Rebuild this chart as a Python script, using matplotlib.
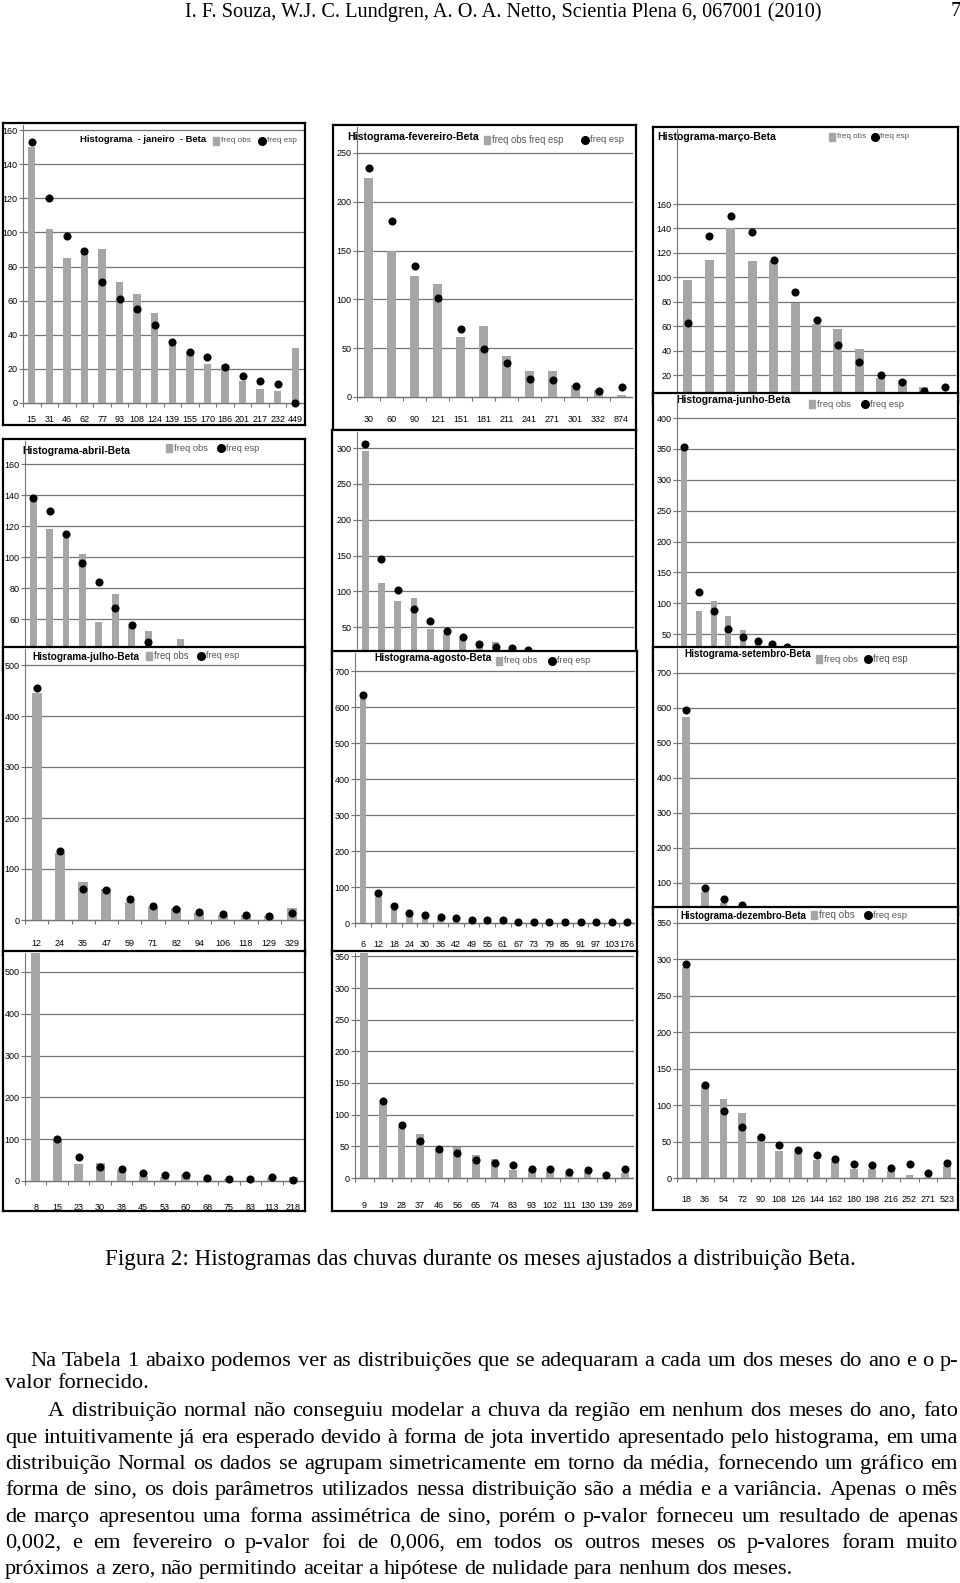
"""
Página 7 de Souza, Lundgren & Netto (2010): doze histogramas mensais de chuva
(freq obs em barras, freq esp da Beta em pontos), sobrepostos como na figura
original, seguidos da legenda e do texto.
"""
import matplotlib

matplotlib.use("Agg")

import matplotlib.pyplot as plt
import numpy as np
from matplotlib.patches import Rectangle

W, H = 960, 1583
nan = np.nan

# --- dados (nan = escondido por outro painel) -------------------------------
JAN_BINS = [15, 31, 46, 62, 77, 93, 108, 124, 139, 155, 170, 186, 201, 217, 232, 449]
JAN_OBS = [150, 102, 85, 89, 90, 71, 64, 53, 35, 30, 23, 22, 13, 8, 7, 32]
JAN_ESP = [153, 120, 98, 89, 71, 61, 55, 46, 36, 30, 27, 21, 16, 13, 11, 0]

FEV_BINS = [30, 60, 90, 121, 151, 181, 211, 241, 271, 301, 332, 874]
FEV_OBS = [224, 150, 124, 116, 61, 73, 42, 27, 27, 12, 7, 2]
FEV_ESP = [235, 180, 134, 101, 70, 49, 35, 18, 17, 11, 6, 10]

MAR_OBS = [98, 114, 140, 113, 113, 79, 62, 58, 41, 18, 16, 10, 2]
MAR_ESP = [63, 134, 150, 137, 114, 88, 65, 45, 31, 20, 14, 7, 10]

ABR_OBS = [139, 118, 112, 102, 58, 76, 55, 52, nan, 47] + [nan] * 7
ABR_ESP = [138, 130, 115, 96, 84, 67, 56, 45] + [nan] * 9

MAI_OBS = [296, 112, 87, 91, 48, 41, 34, 26, 30] + [nan] * 8
MAI_ESP = [306, 145, 102, 76, 58, 44, 36, 27, 22, 21, 18] + [nan] * 6

JUN_OBS = [351, 87, 103, 80, 56, 35, 30, 33] + [nan] * 11
JUN_ESP = [353, 118, 88, 59, 45, 39, 34, 29] + [nan] * 11

JUL_BINS = [12, 24, 35, 47, 59, 71, 82, 94, 106, 118, 129, 329]
JUL_OBS = [446, 131, 74, 60, 35, 26, 23, 13, 10, 10, 7, 24]
JUL_ESP = [454, 135, 60, 58, 41, 28, 22, 16, 12, 9, 7, 14]

AGO_BINS = [6, 12, 18, 24, 30, 36, 42, 49, 55, 61, 67, 73, 79, 85, 91, 97, 103, 176]
AGO_OBS = [628, 72, 35, 21, 17, 12, 8, 6, 5, 4, 2, 1, 1, 1, 1, 1, 1, 1]
AGO_ESP = [632, 83, 47, 29, 21, 17, 14, 9, 7, 7, 3, 2, 2, 2, 2, 2, 2, 2]

SET_OBS = [575, 73, 42] + [nan] * 12
SET_ESP = [594, 86, 55, 38] + [nan] * 11

OUT_BINS = [8, 15, 23, 30, 38, 45, 53, 60, 68, 75, 83, 113, 218]
OUT_OBS = [600, 100, 41, 44, 26, 13, 10, 17, 6, 4, 2, 6, 9]   # 1a barra sai do topo
OUT_ESP = [nan, 100, 58, 34, 28, 18, 14, 14, 8, 4, 4, 10, 2]

NOV_BINS = [9, 19, 28, 37, 46, 56, 65, 74, 83, 93, 102, 111, 130, 139, 269]
NOV_OBS = [380, 118, 81, 69, 47, 49, 37, 30, 13, 14, 10, 6, 9, 1, 8]
NOV_ESP = [nan, 122, 84, 59, 46, 39, 29, 23, 21, 15, 14, 9, 13, 5, 14]

DEZ_BINS = [18, 36, 54, 72, 90, 108, 126, 144, 162, 180, 198, 216, 252, 271, 523]
DEZ_OBS = [290, 128, 109, 89, 57, 37, 34, 25, 23, 12, 12, 9, 4, 1, 17]
DEZ_ESP = [294, 128, 92, 70, 56, 45, 38, 31, 26, 19, 18, 14, 19, 7, 20]

HEADER = "I. F. Souza, W.J. C. Lundgren, A. O. A. Netto, Scientia Plena 6, 067001 (2010)"
CAPTION = "Figura 2: Histogramas das chuvas durante os meses ajustados a distribuição Beta."
PARA1 = ["Na Tabela 1 abaixo podemos ver as distribuições que se adequaram a cada um dos meses do ano e o p-",
         "valor fornecido."]
PARA2 = ["A distribuição normal não conseguiu modelar a chuva da região em nenhum dos meses do ano, fato",
         "que intuitivamente já era esperado devido à forma de jota invertido apresentado pelo histograma, em uma",
         "distribuição Normal os dados se agrupam simetricamente em torno da média, fornecendo um gráfico em",
         "forma de sino, os dois parâmetros utilizados nessa distribuição são a média e a variância. Apenas o mês",
         "de março apresentou uma forma assimétrica de sino, porém o p-valor forneceu um resultado de apenas",
         "0,002, e em fevereiro o p-valor foi de 0,006, em todos os outros meses os p-valores foram muito",
         "próximos a zero, não permitindo aceitar a hipótese de nulidade para nenhum dos meses."]

SANS = ["Liberation Sans", "DejaVu Sans"]
SERIF = ["Liberation Serif", "DejaVu Serif"]
BAR = "#a6a6a6"
GRID = "#747474"
TICK_FS = 6.5

plt.rcParams["font.family"] = SANS

fig = plt.figure(figsize=(W / 100, H / 100), dpi=100)
fig.patch.set_facecolor("white")
renderer = fig.canvas.get_renderer()


def rect(x0, y0, x1, y1):
    """page pixels (top-left origin) -> figure fraction rect"""
    return [x0 / W, 1 - y1 / H, (x1 - x0) / W, (y1 - y0) / H]


def fit_text(ax, x, y, s, target, maxsize, **kw):
    """text whose rendered width is about `target` pixels"""
    t = ax.text(x, y, s, fontsize=10, **kw)
    w = t.get_window_extent(renderer).width
    t.set_fontsize(min(maxsize, 10 * target / w))
    return t


def panel(frame, plot, obs, esp, ticks, bins=None, label_y=None,
          title=None, legend=None):
    fx0, fy0, fx1, fy1 = frame
    # the frame axes works in page pixels, y downwards
    box = fig.add_axes(rect(fx0, fy0, fx1, fy1))
    box.set_xlim(fx0, fx1); box.set_ylim(fy1, fy0)
    box.set_xticks([]); box.set_yticks([])
    box.set_facecolor("white")
    for s in box.spines.values():
        s.set_linewidth(1.6); s.set_color("black")

    px0, px1, zero, (ref_v, ref_px) = plot
    k = (zero - ref_px) / ref_v                      # pixels per unit
    top, bottom = fy0 + 2, zero + 7
    ax = fig.add_axes(rect(px0, top, px1, bottom))
    ax.patch.set_alpha(0)
    n = len(obs)
    x = np.arange(n)
    ax.set_xlim(-0.5, n - 0.5)
    ymax = (zero - top) / k
    ax.set_ylim((zero - bottom) / k, ymax)
    ax.set_yticks(ticks)
    ax.yaxis.grid(True, color=GRID, lw=0.9)
    ax.set_axisbelow(True)
    for side in ("top", "right", "bottom"):
        ax.spines[side].set_visible(False)
    ax.spines["left"].set_color(GRID)
    ax.spines["left"].set_bounds(0, ymax)
    ax.tick_params(axis="y", length=3, color=GRID, labelsize=TICK_FS, pad=1)
    ax.set_xticks([])
    ax.axhline(0, color=GRID, lw=0.9)
    ax.vlines(np.arange(n + 1) - 0.5, 0, -4 / k, color=GRID, lw=0.8)

    ax.bar(x, obs, width=0.42, color=BAR, zorder=2)
    ax.scatter(x, esp, s=34, color="black", zorder=3, linewidths=0)

    if bins is not None:
        step = (px1 - px0) / n
        for i, b in enumerate(bins):
            box.text(px0 + (i + 0.5) * step, label_y, str(b), ha="center",
                     va="center", fontsize=TICK_FS, clip_on=False)

    if title:
        tx, ty, tw, s = title
        room = (legend[0] - 8 - tx) if legend else tw * 1.12
        fit_text(box, tx, ty, s, min(tw * 1.12, room), 9, fontweight="bold",
                 ha="left", va="center")
    if legend:
        sq_x, obs_lbl, obs_w, dot_x, esp_lbl, esp_w, ly = legend
        box.add_patch(Rectangle((sq_x - 3, ly - 4), 6, 8, color=BAR))
        fit_text(box, sq_x + 5, ly, obs_lbl, obs_w, 8, color="#555555",
                 ha="left", va="center")
        box.plot([dot_x], [ly], "o", color="black", ms=5.5)
        fit_text(box, dot_x + 5, ly, esp_lbl, esp_w, 8, color="#555555",
                 ha="left", va="center")
    return ax


# row 1
panel((3, 123, 305, 425), (23, 304, 403, (160, 130)), JAN_OBS, JAN_ESP,
      range(0, 161, 20), JAN_BINS, 420,
      (80, 140, 112, "Histograma  - janeiro  - Beta"),
      (216, "freq obs", 30, 262, "freq esp", 30, 141))
panel((333, 125, 636, 430), (357, 633, 397, (250, 153)), FEV_OBS, FEV_ESP,
      range(0, 251, 50), FEV_BINS, 420,
      (347, 137, 119, "Histograma-fevereiro-Beta"),
      (487, "freq obs freq esp", 72, 585, "freq esp", 34, 140))
panel((653, 127, 958, 402), (677, 956, 399.5, (160, 204)), MAR_OBS, MAR_ESP,
      range(20, 161, 20), None, None,
      (657, 137, 106, "Histograma-março-Beta"),
      (832, "freq obs", 29, 875, "freq esp", 29, 137))

# row 2
panel((3, 439, 305, 670), (25, 304, 712, (160, 464)), ABR_OBS, ABR_ESP,
      range(40, 161, 20), None, None,
      (22, 451, 95, "Histograma-abril-Beta"),
      (169, "freq obs", 34, 221, "freq esp", 33, 448))
panel((332, 430, 636, 670), (357, 634, 663, (300, 448)), MAI_OBS, MAI_ESP,
      range(0, 301, 50))
panel((653, 393, 958, 670), (677, 956, 665, (400, 418)), JUN_OBS, JUN_ESP,
      range(50, 401, 50), None, None,
      (676, 400, 101, "Histograma-junho-Beta"),
      (812, "freq obs", 34, 865, "freq esp", 34, 404))

# row 3
panel((3, 647, 305, 955), (25, 304, 920, (500, 665)), JUL_OBS, JUL_ESP,
      range(0, 501, 100), JUL_BINS, 944,
      (32, 657, 96, "Histograma-julho-Beta"),
      (149, "freq obs", 35, 201, "freq esp", 33, 656))
panel((332, 651, 637, 955), (355, 635, 923, (700, 671)), AGO_OBS, AGO_ESP,
      range(0, 701, 100), AGO_BINS, 945,
      (374, 658, 104, "Histograma-agosto-Beta"),
      (499, "freq obs", 33, 552, "freq esp", 33, 661))
panel((653, 647, 958, 915), (677, 956, 918, (700, 673)), SET_OBS, SET_ESP,
      range(100, 701, 100), None, None,
      (684, 654, 117, "Histograma-setembro-Beta"),
      (819, "freq obs", 34, 868, "freq esp", 35, 659))

# row 4
panel((3, 951, 305, 1211), (25, 304, 1181, (500, 972)), OUT_OBS, OUT_ESP,
      range(0, 501, 100), OUT_BINS, 1207)
panel((332, 951, 637, 1211), (355, 634, 1178, (300, 988)), NOV_OBS, NOV_ESP,
      range(0, 351, 50), NOV_BINS, 1205)
panel((653, 907, 958, 1210), (677, 956, 1178, (350, 923)), DEZ_OBS, DEZ_ESP,
      range(0, 351, 50), DEZ_BINS, 1200,
      (680, 916, 119, "Histograma-dezembro-Beta"),
      (814, "freq obs", 36, 868, "freq esp", 34, 915))

# --- page text ----------------------------------------------------------------


def width_of(s, size):
    t = fig.text(0, 0, s, fontsize=size, family=SERIF)
    w = t.get_window_extent(renderer).width
    t.remove()
    return w


def fit(s, target):
    return 10 * target / width_of(s, 10)


def line(s, x0, x1, ypx, size, justify=True):
    """one line of body text, word by word, on a common baseline"""
    base = 1 - (ypx + 0.25 * size * 100 / 72) / H
    words = s.split(" ")
    texts = [fig.text(0, base, w, fontsize=size, family=SERIF,
                      va="baseline", ha="left") for w in words]
    widths = [t.get_window_extent(renderer).width for t in texts]
    if justify and len(words) > 1:
        gap = (x1 - x0 - sum(widths)) / (len(words) - 1)
    else:
        gap = width_of("a b", size) - width_of("ab", size)
    x = x0
    for t, w in zip(texts, widths):
        t.set_x(x / W)
        x += w + gap


hs = fit(HEADER, 636)
fig.text(185 / W, 1 - 12 / H, HEADER, fontsize=hs, family=SERIF, va="center")
fig.text(951 / W, 1 - 12 / H, "7", fontsize=hs, family=SERIF, va="center")

cs = fit(CAPTION, 751)
fig.text(105 / W, 1 - 1259 / H, CAPTION, fontsize=cs, family=SERIF, va="center")

bs = fit(PARA2[-1], 785)
line(PARA1[0], 30, 958, 1360, bs)
line(PARA1[1], 5, 958, 1382, bs, justify=False)
ys = [1410, 1437, 1463, 1489, 1516, 1542, 1568]
for i, (s, y) in enumerate(zip(PARA2, ys)):
    last = i == len(PARA2) - 1
    line(s, 48 if i == 0 else 5, 958, y, bs, justify=not last)

fig.savefig("out.png", dpi=100, facecolor="white")
